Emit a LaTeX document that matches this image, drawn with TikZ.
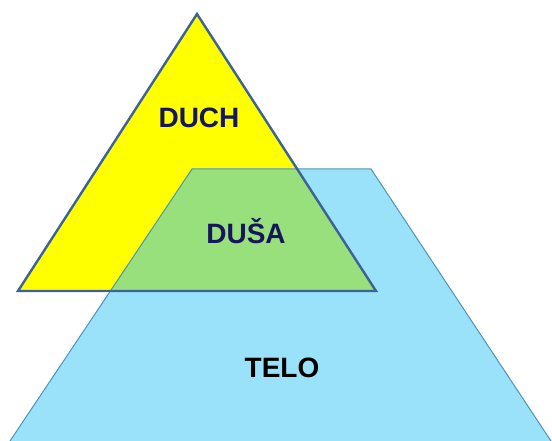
\documentclass[tikz,border=0pt]{standalone}
\usepackage{fontspec}
\setmainfont{Liberation Sans}
\usetikzlibrary{positioning}
\definecolor{duchyellow}{HTML}{FFFF00}
\definecolor{telblue}{HTML}{99E2FA}
\definecolor{dusagreen}{HTML}{98E07C}
\definecolor{triedge}{HTML}{3D6296}
\definecolor{trapedge}{HTML}{4F93B8}
\definecolor{labelnavy}{HTML}{16165C}

\begin{document}
\begin{tikzpicture}[
    x=1pt, y=-1pt,
    layer/.style={font=\fontsize{28}{30}\selectfont\bfseries},
    triline/.style={draw=triedge, line width=2.4pt, line join=miter},
    trapline/.style={draw=trapedge, line width=1pt}
]
\useasboundingbox (0,0) rectangle (552,441);

% Corners
\coordinate (apex) at (197,14);
\coordinate (tl) at (18,291);
\coordinate (tr) at (376,291);
\coordinate (ptl) at (192,169);
\coordinate (ptr) at (371,169);
\coordinate (pbl) at (10,441);
\coordinate (pbr) at (551,441);

% Body and spirit
\fill[telblue] (ptl) -- (ptr) -- (pbr) -- (pbl) -- cycle;
\fill[duchyellow] (apex) -- (tr) -- (tl) -- cycle;

% Overlap
\begin{scope}
  \clip (apex) -- (tr) -- (tl) -- cycle;
  \fill[dusagreen] (ptl) -- (ptr) -- (pbr) -- (pbl) -- cycle;
\end{scope}

% Outlines
\draw[trapline] (pbl) -- (ptl) -- (ptr) -- (pbr);
\draw[triline] (apex) -- (tr) -- (tl) -- cycle;

% Labels
\node[layer, text=labelnavy] (duch) at (199,118) {DUCH};
\node[layer, text=labelnavy] (dusa) at (246,231) {DUŠA};
\node[layer, text=black] (telo) at (282,368) {TELO};

\end{tikzpicture}
\end{document}
